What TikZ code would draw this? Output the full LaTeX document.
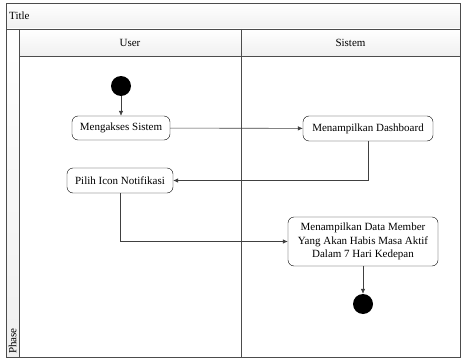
\documentclass[tikz,border=0pt]{standalone}
\usepackage{fontspec}
\setmainfont{Liberation Serif}
\usetikzlibrary{arrows.meta}

\tikzset{
	aksi/.style={draw=black, rounded corners=6pt, align=center, inner sep=2pt,
		font=\fontsize{11}{13.6}\selectfont},
	panah/.style={draw=black!75, line width=0.6pt, -{Latex[length=5pt,width=4.5pt]}},
	titik/.style={circle, fill=black, minimum size=20pt, inner sep=0pt},
	kepala/.style={top color=white, bottom color=black!6},
	garis/.style={draw=black!70, line width=0.8pt},
	judul/.style={font=\fontsize{11}{13.6}\selectfont, inner sep=1pt},
}

\begin{document}
\begin{tikzpicture}[x=1pt, y=-1pt]
	\useasboundingbox (0,0) rectangle (463,361);
	
	% Bingkai dan jalur
	\fill[kepala] (6,3) rectangle (460,29); % pita judul
	\fill[kepala] (19,29) rectangle (460,56); % kepala jalur
	\fill[kepala] (6,29) rectangle (19,357); % kolom fase
	\draw[garis] (6,3) rectangle (460,357); % tepi luar
	\draw[garis] (6,29) -- (460,29);
	\draw[garis] (19,56) -- (460,56);
	\draw[garis] (19,29) -- (19,357);
	\draw[garis] (241,29) -- (241,357); % batas User / Sistem
	
	% Label jalur
	\node[judul, anchor=west] (ttl) at (8,16) {Title};
	\node[judul] (user) at (130,42.5) {User};
	\node[judul] (sistem) at (350.5,42.5) {Sistem};
	\node[judul, anchor=west, rotate=90] (fase) at (12.5,355) {Phase};
	
	% Aktivitas
	\node[titik] (mulai) at (121,86) {};
	\node[aksi, minimum width=98pt, minimum height=24pt] (akses) at (121,128) {Mengakses Sistem};
	\node[aksi, minimum width=130pt, minimum height=25pt] (dash) at (368,128.5) {Menampilkan Dashboard};
	\node[aksi, minimum width=106pt, minimum height=25pt] (pilih) at (120,180.5) {Pilih Icon Notifikasi};
	\node[aksi, minimum width=150pt, minimum height=49pt] (data) at (363,241.5)
		{Menampilkan Data Member\\Yang Akan Habis Masa Aktif\\Dalam 7 Hari Kedepan};
	\node[titik] (akhir) at (363,304) {};
	
	% Alur
	\draw[panah] (mulai) -- (akses);
	\draw[panah] (akses) -- (dash);
	\draw[panah] (dash.south) |- (pilih.east);
	\draw[panah] (pilih.south) |- (data.west);
	\draw[panah] (data) -- (akhir);
	
\end{tikzpicture}
\end{document}
